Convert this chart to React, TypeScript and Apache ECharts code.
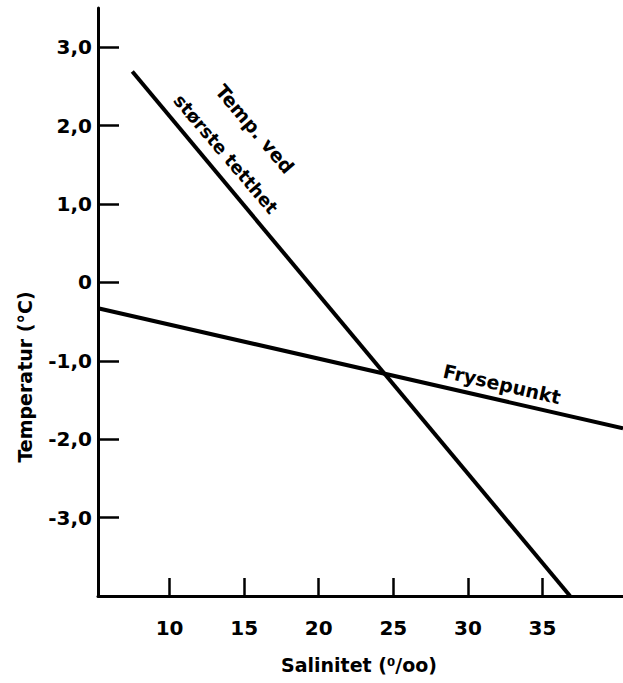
import React, { useEffect, useRef } from "react";
import * as echarts from "echarts";

const salinityTicks = [10, 15, 20, 25, 30, 35];
const temperatureTicks = [-3, -2, -1, 0, 1, 2, 3];
const maxDensityLine: [number, number][] = [
  [7.5, 2.69],
  [36.85, -4.0],
];
const freezingLine: [number, number][] = [
  [5.2, -0.33],
  [40.4, -1.86],
];

const FONT = "DejaVu Sans";

function fmt(v: number) {
  if (v === 0) return "0";
  return v.toFixed(1).replace(".", ",");
}

export default function App() {
  const ref = useRef<HTMLDivElement>(null);
  useEffect(() => {
    if (!ref.current) return;
    const chart = echarts.init(ref.current, undefined, { renderer: "svg" });
    chart.setOption({
      animation: false,
      backgroundColor: "#fff",
      grid: { left: 98, right: 0, top: 8, bottom: 87, containLabel: false },
      xAxis: {
        type: "value",
        min: 5.2,
        max: 40.4,
        axisLine: { show: true, onZero: false, lineStyle: { color: "#000", width: 3 } },
        axisTick: {
          show: true,
          inside: true,
          length: 18,
          customValues: salinityTicks,
          lineStyle: { color: "#000", width: 2.5 },
        },
        axisLabel: {
          customValues: salinityTicks,
          margin: 22,
          color: "#000",
          fontFamily: FONT,
          fontWeight: "bold",
          fontSize: 20,
          formatter: (v: number) => String(v),
        },
        splitLine: { show: false },
      },
      yAxis: {
        type: "value",
        min: -4,
        max: 3.5,
        axisLine: { show: true, onZero: false, lineStyle: { color: "#000", width: 3 } },
        axisTick: {
          show: true,
          inside: true,
          length: 21,
          customValues: temperatureTicks,
          lineStyle: { color: "#000", width: 2.5 },
        },
        axisLabel: {
          customValues: temperatureTicks,
          margin: 6,
          color: "#000",
          fontFamily: FONT,
          fontWeight: "bold",
          fontSize: 20,
          formatter: (v: number) => fmt(v),
        },
        splitLine: { show: false },
      },
      series: [
        {
          type: "line",
          data: maxDensityLine,
          symbol: "none",
          lineStyle: { color: "#000", width: 4 },
          clip: true,
        },
        {
          type: "line",
          data: freezingLine,
          symbol: "none",
          lineStyle: { color: "#000", width: 4 },
          clip: true,
        },
      ],
      graphic: [
        {
          type: "text",
          x: 255,
          y: 129,
          rotation: -0.866,
          style: {
            text: "Temp. ved",
            fill: "#000",
            font: `bold 19px "${FONT}"`,
            align: "center",
            verticalAlign: "middle",
          },
        },
        {
          type: "text",
          x: 226,
          y: 154,
          rotation: -0.866,
          style: {
            text: "største tetthet",
            fill: "#000",
            font: `bold 18px "${FONT}"`,
            align: "center",
            verticalAlign: "middle",
          },
        },
        {
          type: "text",
          x: 502,
          y: 384,
          rotation: -0.227,
          style: {
            text: "Frysepunkt",
            fill: "#000",
            font: `bold 19px "${FONT}"`,
            align: "center",
            verticalAlign: "middle",
          },
        },
        {
          type: "text",
          x: 25,
          y: 377,
          rotation: Math.PI / 2,
          style: {
            text: "Temperatur (°C)",
            fill: "#000",
            font: `bold 19px "${FONT}"`,
            align: "center",
            verticalAlign: "middle",
          },
        },
        {
          type: "text",
          x: 359,
          y: 665,
          style: {
            text: "Salinitet (⁰/oo)",
            fill: "#000",
            font: `bold 19px "${FONT}"`,
            align: "center",
            verticalAlign: "middle",
          },
        },
      ],
    });
    return () => chart.dispose();
  }, []);
  return (
    <div
      ref={ref}
      style={{ position: "fixed", left: 0, top: 0, width: 623, height: 683, background: "#fff" }}
    />
  );
}
